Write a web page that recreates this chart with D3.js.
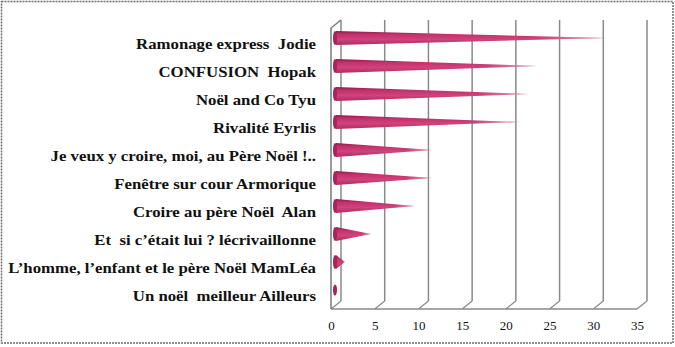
<!DOCTYPE html>
<html>
<head>
<meta charset="utf-8">
<script src="https://cdn.jsdelivr.net/npm/d3@7"></script>
<style>
  html, body { margin: 0; padding: 0; background: #fff; }
  svg { display: block; }
  text { white-space: pre; }
</style>
</head>
<body>
<svg id="chart" width="675" height="347"></svg>
<script>
// Entries, listed top to bottom
const categories = [
  "Ramonage express  Jodie",
  "CONFUSION  Hopak",
  "Noël and Co Tyu",
  "Rivalité Eyrlis",
  "Je veux y croire, moi, au Père Noël !..",
  "Fenêtre sur cour Armorique",
  "Croire au père Noël  Alan",
  "Et  si c’était lui ? lécrivaillonne",
  "L’homme, l’enfant et le père Noël MamLéa",
  "Un noël  meilleur Ailleurs"
];
const votes = [31, 23, 22, 21, 11, 11, 9, 4, 1, 0];
const tickValues = [0, 5, 10, 15, 20, 25, 30, 35];

const svg = d3.select("#chart");

// depth of the 3D box (back wall is shifted right and up)
const DX = 10, DY = -8;

const x = d3.scaleLinear().domain([0, 35]).range([331, 637]);
const y = d3.scaleBand().domain(categories).range([31, 311]).padding(0);

const defs = svg.append("defs");
const grad = defs.append("linearGradient")
  .attr("id", "coneFill").attr("x1", 0).attr("y1", 0).attr("x2", 0).attr("y2", 1);
grad.append("stop").attr("offset", "0%").attr("stop-color", "#8f1b47");
grad.append("stop").attr("offset", "25%").attr("stop-color", "#c2316b");
grad.append("stop").attr("offset", "60%").attr("stop-color", "#d0437b");
grad.append("stop").attr("offset", "100%").attr("stop-color", "#b02a5f");

const tipFade = defs.append("linearGradient")
  .attr("id", "tipFade").attr("x1", 0).attr("y1", 0).attr("x2", 1).attr("y2", 0);
tipFade.append("stop").attr("offset", "0%").attr("stop-color", "#fff").attr("stop-opacity", 0);
tipFade.append("stop").attr("offset", "75%").attr("stop-color", "#fff").attr("stop-opacity", 0);
tipFade.append("stop").attr("offset", "100%").attr("stop-color", "#f6c9dc").attr("stop-opacity", 0.6);

// outer frame
svg.append("rect")
  .attr("x", 1.5).attr("y", 1.5).attr("width", 671.5).attr("height", 341.5)
  .attr("fill", "none").attr("stroke", "#6e6e6e").attr("stroke-width", 1.5)
  .attr("stroke-dasharray", "2,1");

const y0 = 309;           // front floor line
const yTop = 28;          // top of front left edge
const gridColor = "#8a8a8a";

// back-wall gridlines
svg.append("g").selectAll("line")
  .data(tickValues)
  .join("line")
  .attr("x1", d => x(d) + DX).attr("x2", d => x(d) + DX)
  .attr("y1", yTop + DY).attr("y2", y0 + DY)
  .attr("stroke", gridColor).attr("stroke-width", 1.5);

// floor: diagonals from front to back at each tick
svg.append("g").selectAll("line")
  .data(tickValues)
  .join("line")
  .attr("x1", d => x(d)).attr("y1", y0)
  .attr("x2", d => x(d) + DX).attr("y2", y0 + DY)
  .attr("stroke", gridColor).attr("stroke-width", 1.2);

// floor front edge
svg.append("line")
  .attr("x1", x(0)).attr("x2", x(35)).attr("y1", y0).attr("y2", y0)
  .attr("stroke", gridColor).attr("stroke-width", 1.5);

// left wall
svg.append("path")
  .attr("d", `M${x(0)},${y0} L${x(0)},${yTop} L${x(0) + DX},${yTop + DY}`)
  .attr("fill", "none").attr("stroke", "#7a7a7a").attr("stroke-width", 1.5);

// cones, placed halfway into the depth
const hx = DX / 2;
const coneY = d => y(d) + y.bandwidth() / 2 - 7;
const halfH = 7;
const conePath = d => {
  const cy = coneY(d.c);
  const b = x(0) + hx, t = x(d.v) + hx;
  return `M${b},${cy - halfH} L${t},${cy} L${b},${cy + halfH} Z`;
};

const cones = svg.append("g").selectAll("g")
  .data(categories.map((c, i) => ({ c, v: votes[i] })))
  .join("g");

cones.filter(d => d.v > 0).append("path").attr("d", conePath).attr("fill", "url(#coneFill)");
cones.filter(d => d.v > 0).append("path").attr("d", conePath).attr("fill", "url(#tipFade)");

cones.append("ellipse")
  .attr("cx", x(0) + hx - 1)
  .attr("cy", d => coneY(d.c))
  .attr("rx", 2)
  .attr("ry", d => d.v > 0 ? halfH : 5.5)
  .attr("fill", "#a8235a");

// category labels
const labelRight = 316, labelLeftMost = 8;
const labels = svg.append("g");
labels.selectAll("text")
  .data(categories)
  .join("text")
  .attr("x", 0)
  .attr("y", d => y(d) + y.bandwidth() / 2 + 4)
  .attr("text-anchor", "end")
  .attr("font-family", "'Liberation Serif', 'DejaVu Serif', serif")
  .attr("font-weight", "bold")
  .attr("font-size", 15)
  .attr("fill", "#111")
  .text(d => d);
// fit the longest label into the space left of the plot
const widest = d3.max(labels.selectAll("text").nodes(), n => n.getComputedTextLength());
const sx = (labelRight - labelLeftMost) / widest;
labels.attr("transform", `translate(${labelRight},0) scale(${sx},1)`);

// value axis labels
const axis = d3.axisBottom(x).tickValues(tickValues).tickSize(0).tickPadding(12);
const ax = svg.append("g").attr("transform", `translate(0,${y0})`).call(axis);
ax.select(".domain").remove();
ax.selectAll("text")
  .attr("font-family", "'Liberation Serif', serif")
  .attr("font-size", 13)
  .attr("fill", "#111");
</script>
</body>
</html>
